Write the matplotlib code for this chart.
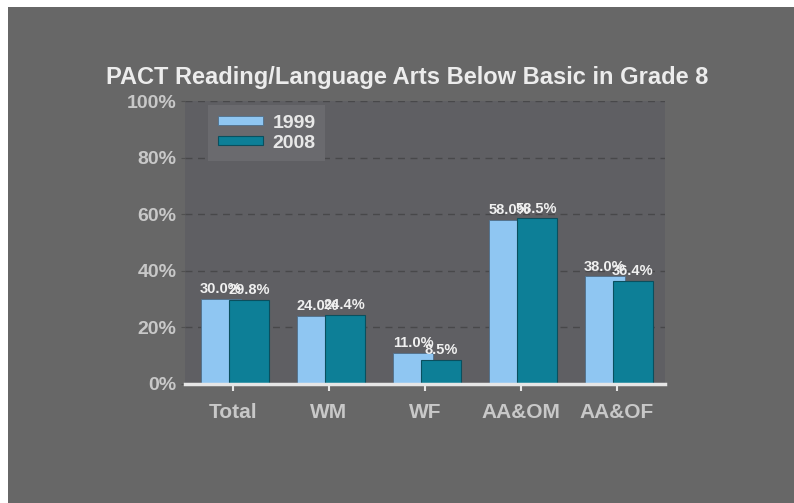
import numpy as np
import matplotlib.pyplot as plt
import matplotlib as mpl
from matplotlib.patches import Rectangle

mpl.rcParams['font.family'] = ['Liberation Sans', 'DejaVu Sans']
mpl.rcParams['font.weight'] = 'bold'

# Data
categories = ['Total', 'WM', 'WF', 'AA&OM', 'AA&OF']
y1999 = [30.0, 24.0, 11.0, 58.0, 38.0]
y2008 = [29.8, 24.4, 8.5, 58.5, 36.4]
yticks = [0, 20, 40, 60, 80, 100]

bg = '#676767'
fig = plt.figure(figsize=(7.94, 5.03), dpi=100, facecolor='white')
# gray slide background with thin white margin at top/left
fig.patches.append(Rectangle((8/794, 0), 1, 1 - 7/503, transform=fig.transFigure,
                             facecolor=bg, edgecolor='none', zorder=-10))

ax = fig.add_axes([185/794, 119/503, 480/794, 283/503])
ax.set_facecolor('#5f5f63')

x = np.arange(len(categories))
w = 0.42
ax.bar(x - 0.125, y1999, w, color='#8fc6f2', edgecolor='#4f6f8a', linewidth=0.6,
       label='1999', zorder=3)
ax.bar(x + 0.165, y2008, w, color='#0d7f97', edgecolor='#0a4f5e', linewidth=0.8,
       label='2008', zorder=4)

# value labels (they overlap in the original too)
for xi, v in zip(x, y1999):
    ax.text(xi - 0.125, v + 1.0, f'{v:.1f}%', ha='center', va='bottom',
            color='#f0f0f0', fontsize=10.5, fontweight='bold', zorder=5)
for xi, v in zip(x, y2008):
    ax.text(xi + 0.165, v + 1.0, f'{v:.1f}%', ha='center', va='bottom',
            color='#f0f0f0', fontsize=10.5, fontweight='bold', zorder=5)

ax.set_xlim(-0.5, len(categories) - 0.5)
ax.set_ylim(0, 100)
ax.set_yticks(yticks)
ax.set_yticklabels([f'{t}%' for t in yticks])
ax.set_xticks(x)
ax.set_xticklabels(categories)

ax.yaxis.grid(True, linestyle=(0, (5, 4)), color='#48484a', linewidth=1.0, zorder=0)
ax.set_axisbelow(True)

for s in ['top', 'right', 'left']:
    ax.spines[s].set_visible(False)
ax.spines['bottom'].set_color('#e6e6e6')
ax.spines['bottom'].set_linewidth(2.5)
ax.spines['bottom'].set_zorder(6)

ax.tick_params(axis='y', colors='#c8c8c8', labelsize=14, length=3,
               color='#505050', pad=3)
ax.tick_params(axis='x', colors='#e6e6e6', labelcolor='#c8c8c8', labelsize=15,
               length=5, width=1.5, pad=9)

leg = ax.legend(loc='upper left', bbox_to_anchor=(0.04, 1.0), frameon=True,
                fontsize=14, handlelength=2.3, handleheight=0.35,
                borderpad=0.5, labelspacing=0.15, handletextpad=0.5,
                borderaxespad=0.2, fancybox=False)
leg.get_frame().set_facecolor('#6a6a6e')
leg.get_frame().set_edgecolor('none')
leg.get_frame().set_alpha(1)
for t in leg.get_texts():
    t.set_color('#e8e8e8')
    t.set_fontweight('bold')

fig.text(407/794, 1 - 77/503, 'PACT Reading/Language Arts Below Basic in Grade 8',
         ha='center', va='center', color='#ececec', fontsize=17, fontweight='bold')

plt.savefig('out.png', dpi=100, facecolor=fig.get_facecolor())
